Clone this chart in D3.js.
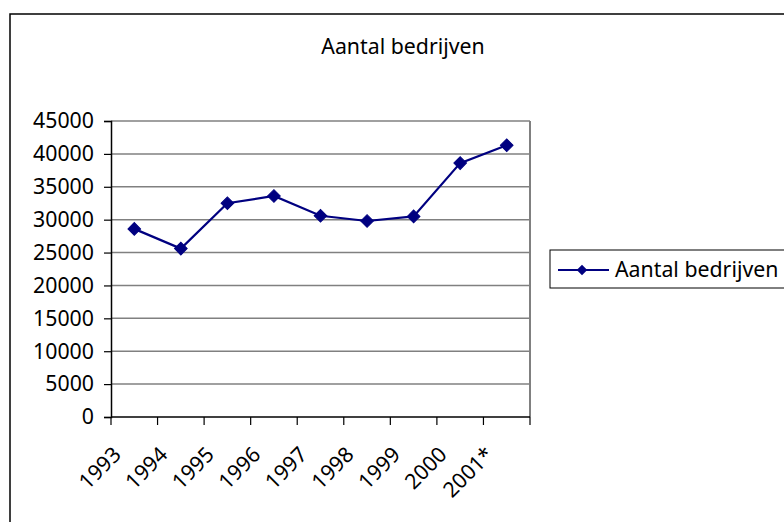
<!DOCTYPE html>
<html>
<head>
<meta charset="utf-8">
<title>Aantal bedrijven</title>
<script src="https://d3js.org/d3.v7.min.js"></script>
<style>
  body { margin: 0; background: #fff; }
  text { font-family: "Noto Sans", sans-serif; fill: #000; }
</style>
</head>
<body>
<div id="chart"></div>
<script>
	var years   = ["1993", "1994", "1995", "1996", "1997", "1998", "1999", "2000", "2001*"];
	var values  = [28600, 25600, 32500, 33600, 30600, 29800, 30500, 38600, 41300];
	var yTicks  = [0, 5000, 10000, 15000, 20000, 25000, 30000, 35000, 40000, 45000];
	var title   = "Aantal bedrijven";
	var seriesName = "Aantal bedrijven";

	var width  = 784;
	var height = 522;
	var plot   = {left: 111, top: 121, right: 530, bottom: 417};
	var navy   = "#000080";
	var fontSize = 21.3;

	var svg = d3.select("#chart").append("svg")
		.attr("width", width)
		.attr("height", height);

	// outer frame, runs off the right and bottom edge
	svg.append("rect")
		.attr("x", 10).attr("y", 14)
		.attr("width", 820).attr("height", 540)
		.attr("fill", "#fff")
		.attr("stroke", "#000").attr("stroke-width", 1.5);

	svg.append("text")
		.attr("x", 403).attr("y", 54)
		.attr("text-anchor", "middle")
		.style("font-size", fontSize + "px")
		.text(title);

	var xScale = d3.scaleBand().domain(years).range([plot.left, plot.right]);
	var yScale = d3.scaleLinear().domain([0, 45000]).range([plot.bottom, plot.top]);

	// gridlines
	svg.append("g").selectAll("line").data(yTicks.filter(d => d > 0)).enter().append("line")
		.attr("x1", plot.left).attr("x2", plot.right)
		.attr("y1", d => yScale(d)).attr("y2", d => yScale(d))
		.attr("stroke", "#808080").attr("stroke-width", 1.5);

	// right border of plot area
	svg.append("line")
		.attr("x1", plot.right).attr("x2", plot.right)
		.attr("y1", plot.top).attr("y2", plot.bottom)
		.attr("stroke", "#808080").attr("stroke-width", 2);

	// y axis
	var yAxis = d3.axisLeft(yScale).tickValues(yTicks).tickSize(7).tickPadding(10).tickFormat(d3.format("d"));
	var gy = svg.append("g").attr("transform", "translate(" + plot.left + ",0)").call(yAxis);
	gy.select(".domain").attr("stroke", "#000").attr("stroke-width", 1.5);
	gy.selectAll(".tick line").attr("stroke", "#000").attr("stroke-width", 1.2);
	gy.selectAll("text").style("font-size", fontSize + "px").style("font-family", "Noto Sans").attr("fill", "#000");

	// x axis: ticks sit between categories
	var boundaries = d3.range(years.length + 1).map(i => plot.left + i * xScale.bandwidth());
	var gx = svg.append("g");
	gx.append("line")
		.attr("x1", plot.left).attr("x2", plot.right)
		.attr("y1", plot.bottom).attr("y2", plot.bottom)
		.attr("stroke", "#000").attr("stroke-width", 1.5);
	gx.selectAll(".xtick").data(boundaries).enter().append("line")
		.attr("class", "xtick")
		.attr("x1", d => d).attr("x2", d => d)
		.attr("y1", plot.bottom).attr("y2", plot.bottom + 8)
		.attr("stroke", "#000").attr("stroke-width", 1.2);
	gx.selectAll(".xlabel").data(years).enter().append("text")
		.attr("class", "xlabel")
		.attr("text-anchor", "end")
		.attr("transform", d => "translate(" + (xScale(d) + xScale.bandwidth() / 2 - 12) + "," + 456 + ") rotate(-45)")
		.style("font-size", fontSize + "px")
		.text(d => d);

	// series
	var cx = d => xScale(d) + xScale.bandwidth() / 2;
	var line = d3.line().x((d, i) => cx(years[i])).y(d => yScale(d));
	svg.append("path")
		.datum(values)
		.attr("d", line)
		.attr("fill", "none")
		.attr("stroke", navy).attr("stroke-width", 2.2);

	var diamond = d3.symbol().type(d3.symbolSquare).size(80);
	svg.selectAll(".marker").data(values).enter().append("path")
		.attr("class", "marker")
		.attr("d", diamond)
		.attr("transform", (d, i) => "translate(" + cx(years[i]) + "," + yScale(d) + ") rotate(45)")
		.attr("fill", navy).attr("stroke", navy).attr("stroke-width", 1);

	// legend
	var lg = svg.append("g");
	lg.append("rect")
		.attr("x", 550).attr("y", 250)
		.attr("width", 260).attr("height", 38)
		.attr("fill", "#fff").attr("stroke", "#000").attr("stroke-width", 1);
	lg.append("line")
		.attr("x1", 558).attr("x2", 609).attr("y1", 270).attr("y2", 270)
		.attr("stroke", navy).attr("stroke-width", 2.2);
	lg.append("path")
		.attr("d", d3.symbol().type(d3.symbolSquare).size(56))
		.attr("transform", "translate(582,270) rotate(45)")
		.attr("fill", navy);
	lg.append("text")
		.attr("x", 615).attr("y", 277)
		.style("font-size", fontSize + "px")
		.text(seriesName);
</script>
</body>
</html>
